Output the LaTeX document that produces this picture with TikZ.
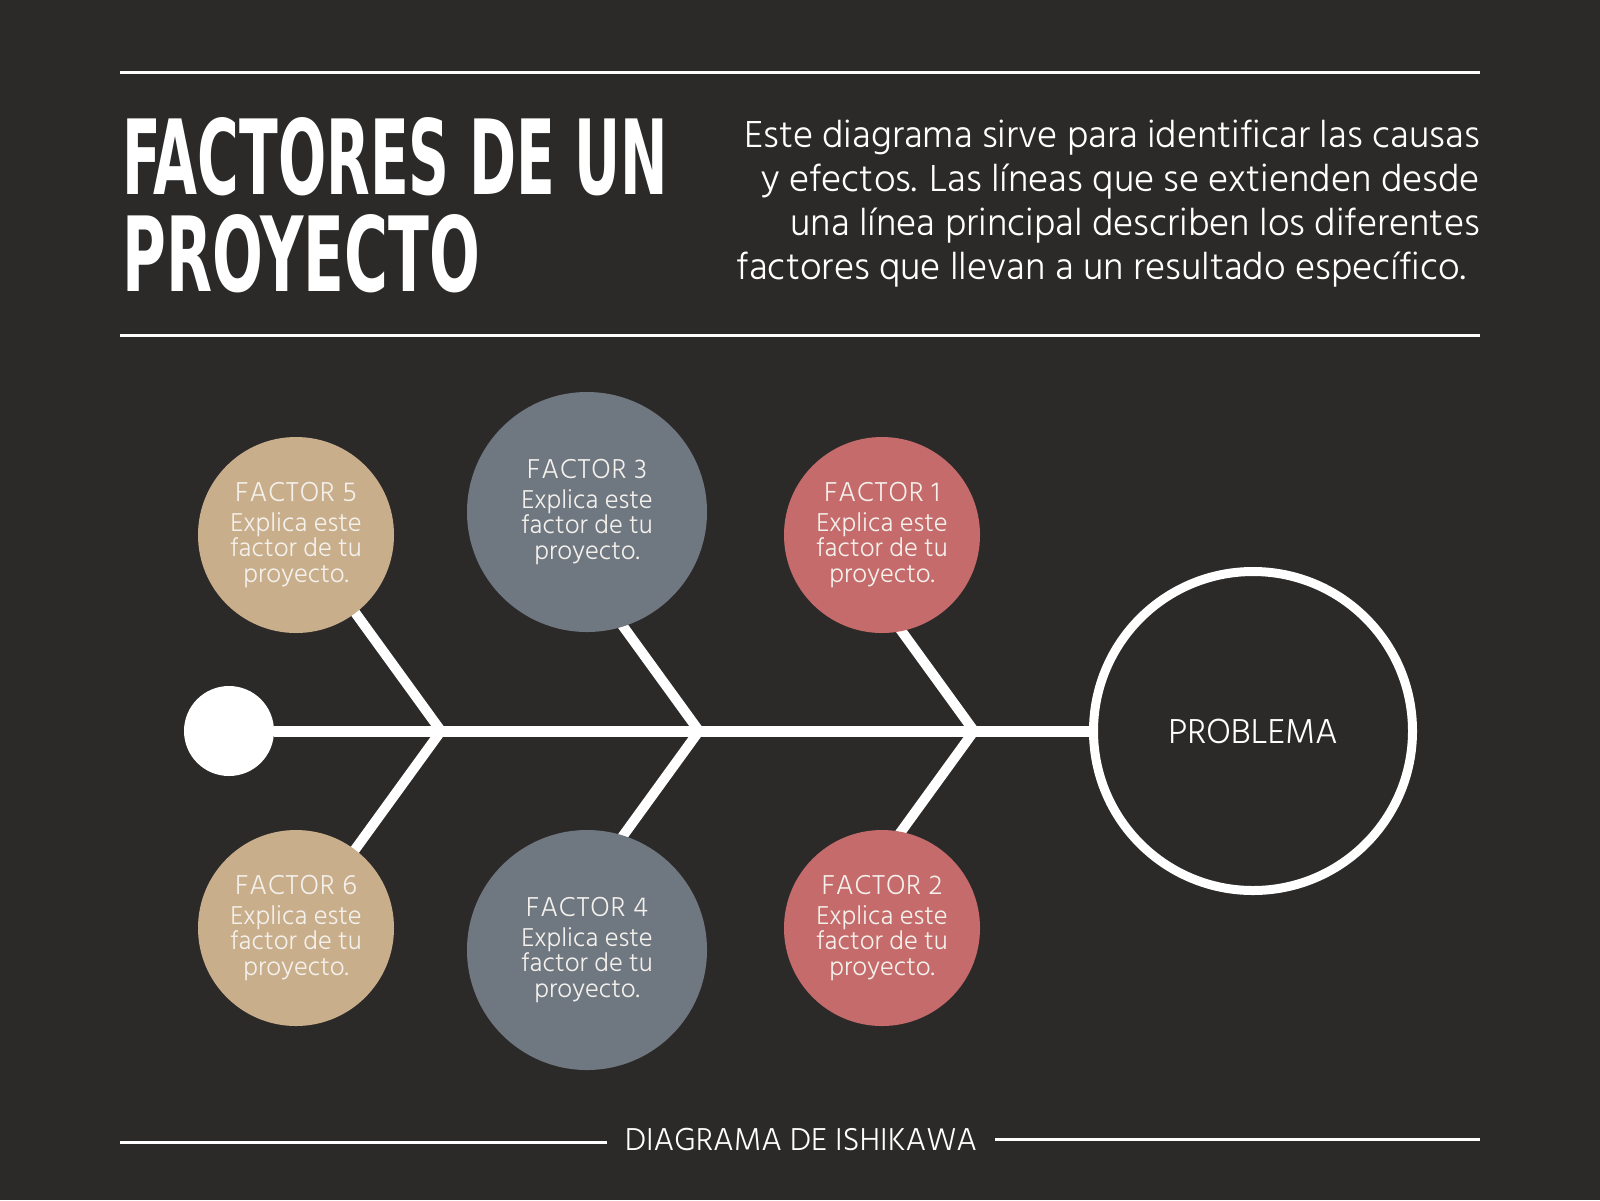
\documentclass[tikz,border=0pt]{standalone}
\usepackage{fontspec}
\usepackage{graphicx}
\usetikzlibrary{calc}
\setmainfont{Hind Madurai}[UprightFont=* Light]
\newfontfamily\factorfont{Hind Madurai}[UprightFont=* Light, LetterSpace=3]
\newfontfamily\brushfont{DejaVu Sans Condensed}
\newlength\pxu
\setlength\pxu{0.25mm}
\definecolor{bg}{HTML}{2C2A29}
\definecolor{ink}{HTML}{FFFFFF}
\definecolor{soft}{HTML}{F4F1EC}
\definecolor{tan}{HTML}{C9AE8B}
\definecolor{slate}{HTML}{6F7781}
\definecolor{rose}{HTML}{C66B6B}
\tikzset{
  rule/.style={draw=ink, line width=3\pxu},
  bone/.style={draw=ink, line width=11\pxu},
  rib/.style={draw=ink, line width=10\pxu, line join=miter},
  dot/.style={circle, fill=ink, inner sep=0pt, minimum size=90\pxu},
  ring/.style={circle, draw=ink, line width=9\pxu, inner sep=0pt, minimum size=319\pxu,
    text=ink, font=\fontsize{35.5\pxu}{40\pxu}\selectfont},
  factor/.style={circle, inner sep=0pt, text=soft, align=center,
    font=\fontsize{26.5\pxu}{25.5\pxu}\selectfont},
  para/.style={inner sep=0pt, text=ink, align=right,
    font=\fontsize{38.6\pxu}{44\pxu}\selectfont},
  brush/.style={inner sep=0pt, anchor=base west, text=ink},
  caption/.style={inner sep=18\pxu, text=ink, font=\fontsize{32.5\pxu}{36\pxu}\selectfont},
}

\begin{document}
\begin{tikzpicture}[x=0.25mm, y=-0.25mm]
  \fill[bg] (0,0) rectangle (1600,1200);
  \useasboundingbox (0,0) rectangle (1600,1200);

  % header
  \draw[rule] (120,72) -- (1480,72);
  \draw[rule] (120,335) -- (1480,335);
  \node[brush] (title) at (122,194) {\resizebox{546\pxu}{77\pxu}{\brushfont\bfseries FACTORES DE UN}};
  \node[brush] (title2) at (122,291) {\resizebox{358\pxu}{77\pxu}{\brushfont\bfseries PROYECTO}};
  \node[para, anchor=north east] (intro) at (1480,120)
    {Este diagrama sirve para identificar las causas\\
     y efectos. Las líneas que se extienden desde\\
     una línea principal describen los diferentes\\
     factores que llevan a un resultado específico.\hspace*{14\pxu}};

  % spine
  \node[dot] (start) at (229,731) {};
  \node[ring] (problema) at (1253,731) {PROBLEMA};
  \draw[bone] (start) -- (problema);

  % ribs
  \foreach \j/\x/\u/\d in {1/441/5/6, 2/699/3/4, 3/974/1/2}{
    \coordinate (j\j) at (\x,731);
    \coordinate (r\u) at ($(j\j)+(-124,-171)$);
    \coordinate (r\d) at ($(j\j)+(-124,171)$);
    \draw[rib] (r\u) -- (j\j) -- (r\d);
  }

  % factors
  \foreach \n/\x/\y/\c/\r in {1/882/535/rose/98, 2/882/928/rose/98,
                              3/587/512/slate/120, 4/587/950/slate/120,
                              5/296/535/tan/98, 6/296/928/tan/98}{
    \node[factor, fill=\c, minimum size={2*\r*\pxu}] (f\n) at (\x,\y)
      {{\factorfont\fontsize{28\pxu}{25.5\pxu}\selectfont FACTOR \n}\\[4\pxu]Explica este\\factor de tu\\proyecto.};
  }

  % footer
  \node[caption] (ishikawa) at (801,1139) {DIAGRAMA DE ISHIKAWA};
  \coordinate (capL) at (120,1142);
  \coordinate (capR) at (1480,1139);
  \draw[rule] (capL) -- (capL -| ishikawa.west);
  \draw[rule] (ishikawa.east |- capR) -- (capR);
\end{tikzpicture}
\end{document}
